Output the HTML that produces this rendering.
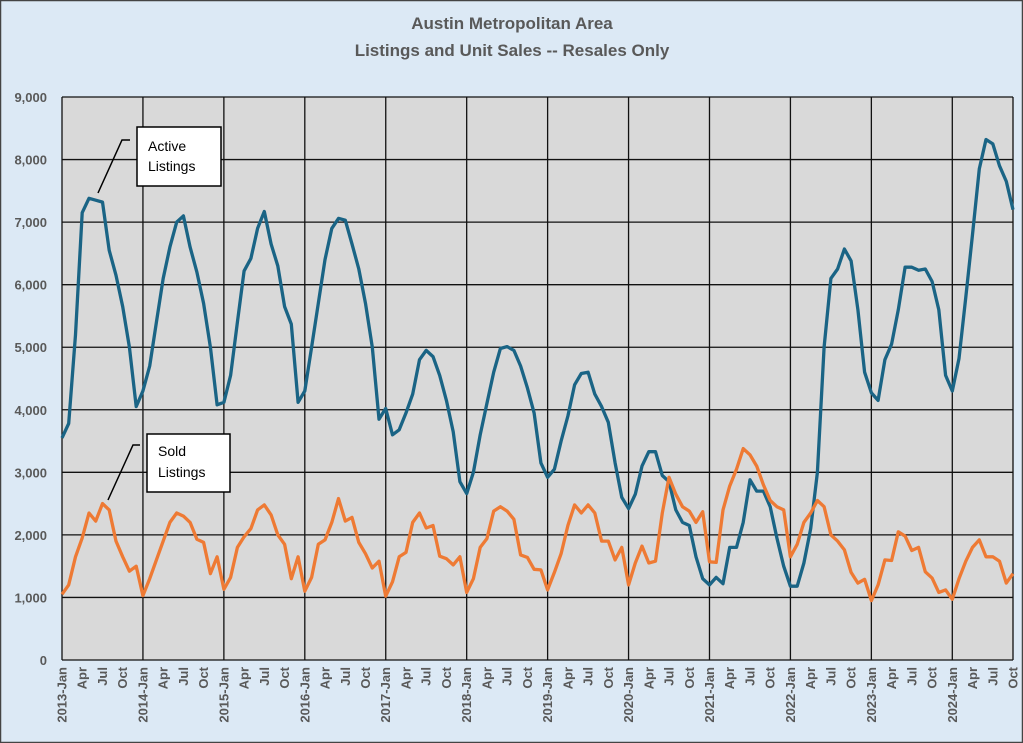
<!DOCTYPE html>
<html><head><meta charset="utf-8"><style>
html,body{margin:0;padding:0;background:#dce9f5;}
svg{display:block;font-family:"Liberation Sans",sans-serif;}
</style></head><body>
<svg id="s" width="1023" height="743" viewBox="0 0 1023 743" xmlns="http://www.w3.org/2000/svg">
<rect x="0.5" y="0.5" width="1022" height="742" fill="#dce9f5" stroke="#444" stroke-width="1.5"/>
<text x="512" y="29" text-anchor="middle" font-size="17" font-weight="bold" fill="#595959">Austin Metropolitan Area</text>
<text x="512" y="56" text-anchor="middle" font-size="17" font-weight="bold" fill="#595959">Listings and Unit Sales -- Resales Only</text>
<rect x="62" y="97" width="951" height="563" fill="#d9d9d9"/>
<g id="grid" stroke="#111" stroke-width="1.3"></g>
<g id="lab" font-size="13" font-weight="bold" fill="#595959"></g>
<polyline id="act" fill="none" stroke="#1a6485" stroke-width="3.3" stroke-linejoin="round"/>
<polyline id="sold" fill="none" stroke="#ee7a34" stroke-width="3.3" stroke-linejoin="round"/>
<polyline points="98,193 122,140 130,140" fill="none" stroke="#000" stroke-width="1.5"/>
<rect x="137" y="127" width="84" height="59" fill="#fff" stroke="#000" stroke-width="1.5"/>
<text x="148" y="151" font-size="14" fill="#000">Active</text>
<text x="148" y="171" font-size="14" fill="#000">Listings</text>
<polyline points="108,500 133,445 140,445" fill="none" stroke="#000" stroke-width="1.5"/>
<rect x="147" y="434" width="83" height="58" fill="#fff" stroke="#000" stroke-width="1.5"/>
<text x="158" y="456" font-size="14" fill="#000">Sold</text>
<text x="158" y="477" font-size="14" fill="#000">Listings</text>
</svg>
<script>
var A=[3550,3780,5200,7150,7380,7350,7320,6550,6150,5650,5000,4050,
4300,4700,5400,6100,6600,7000,7100,6600,6200,5700,5000,4080,
4120,4550,5400,6220,6420,6900,7170,6650,6300,5650,5370,4120,
4300,5000,5700,6400,6900,7060,7030,6650,6250,5700,5000,3850,
4020,3600,3680,3950,4250,4800,4950,4850,4550,4150,3650,2850,
2660,3000,3600,4100,4600,4980,5010,4950,4700,4350,3950,3150,
2920,3050,3500,3900,4400,4580,4600,4250,4050,3800,3150,2600,
2420,2650,3100,3330,3330,2950,2850,2400,2200,2150,1650,1300,
1200,1320,1220,1800,1800,2200,2880,2700,2700,2450,1950,1500,
1180,1180,1550,2100,3000,5000,6100,6250,6570,6380,5600,4600,
4270,4150,4800,5050,5600,6280,6280,6230,6250,6050,5600,4550,
4300,4820,5800,6800,7850,8320,8250,7900,7650,7200];
var S=[1050,1200,1650,1950,2350,2220,2500,2400,1900,1650,1420,1500,
1030,1300,1600,1900,2200,2350,2300,2200,1930,1880,1380,1650,
1130,1320,1800,1970,2100,2400,2480,2320,2000,1850,1300,1650,
1100,1320,1850,1920,2200,2580,2220,2280,1880,1700,1470,1580,
1020,1250,1650,1720,2200,2350,2110,2150,1660,1620,1520,1650,
1080,1300,1800,1940,2380,2450,2380,2250,1680,1640,1450,1440,
1120,1400,1700,2150,2480,2350,2480,2350,1900,1900,1600,1800,
1200,1550,1820,1550,1580,2350,2920,2650,2450,2380,2200,2370,
1570,1560,2400,2780,3050,3380,3280,3100,2800,2550,2450,2400,
1650,1850,2200,2350,2550,2450,2000,1900,1760,1400,1230,1290,
950,1200,1600,1590,2050,1980,1750,1800,1410,1310,1080,1120,
970,1300,1580,1800,1920,1650,1650,1580,1230,1380];
function X(i){return 62+i*951/141;}function Y(v){return 660-v*563/9000;}
function pts(a){return a.map(function(v,i){return X(i).toFixed(1)+","+Y(v).toFixed(1);}).join(" ");}
document.getElementById("act").setAttribute("points",pts(A));
document.getElementById("sold").setAttribute("points",pts(S));
var ns="http://www.w3.org/2000/svg",g=document.getElementById("grid"),l=document.getElementById("lab");
function el(p,t,at,txt){var e=document.createElementNS(ns,t);for(var k in at)e.setAttribute(k,at[k]);if(txt)e.textContent=txt;p.appendChild(e);}
for(var k=0;k<=9;k++){var y=Y(k*1000);el(g,"line",{x1:62,x2:1013,y1:y,y2:y});
el(l,"text",{x:47,y:y+5,"text-anchor":"end"},k==0?"0":(k+",000"));}
for(var yr=0;yr<12;yr++){var x=X(yr*12);el(g,"line",{x1:x,x2:x,y1:97,y2:660});}
el(g,"line",{x1:1013,x2:1013,y1:97,y2:660});
var M=["Jan","Apr","Jul","Oct"];
for(var i=0;i<=141;i+=3){var x=X(i)+4.5,t=(i%12==0)?(2013+i/12)+"-Jan":M[(i%12)/3];
el(l,"text",{x:0,y:0,"text-anchor":"end",transform:"translate("+x+",667) rotate(-90)"},t);}
</script>
</body></html>
